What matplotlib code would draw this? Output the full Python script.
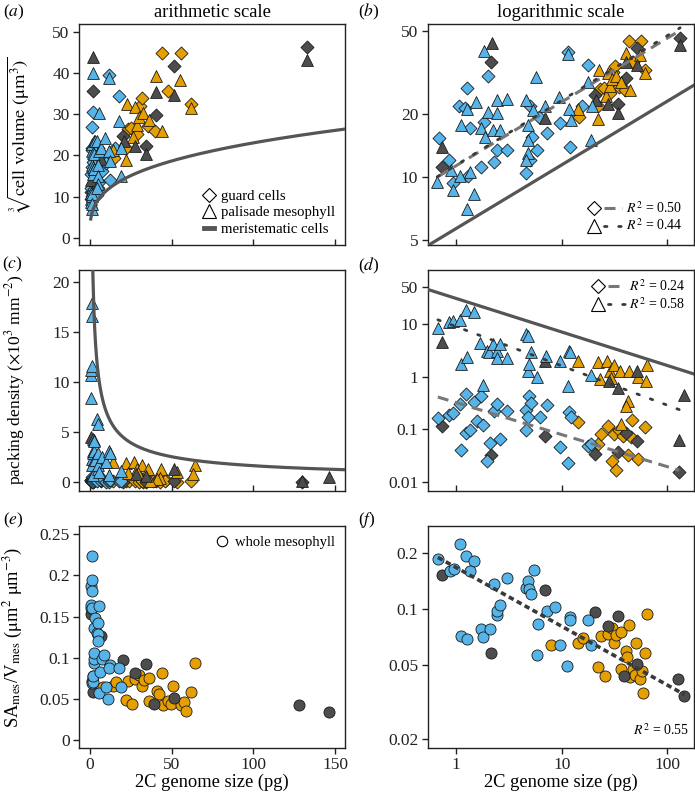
import numpy as np
import matplotlib
matplotlib.use("Agg")
import matplotlib.pyplot as plt
from matplotlib.lines import Line2D
from matplotlib.legend_handler import HandlerTuple
from matplotlib.ticker import FixedLocator, FixedFormatter, NullLocator

plt.rcParams['font.family'] = ['Liberation Serif', 'DejaVu Serif']
plt.rcParams['mathtext.fontset'] = 'stix'

# ---------------- data ----------------
# cube-root cell volume (um) vs 2C genome size (pg)
gc_vol_blue_x = [0.68, 0.86, 0.94, 1.07, 1.27, 1.22, 1.36, 1.29, 1.73, 1.84, 2.02, 2.26, 2.43, 3.02, 4.61, 5.2, 5.0, 5.8, 5.02, 6.1, 7.2, 9.7, 11.4, 12.0, 15.5, 17.7]
gc_vol_blue_y = [15.4, 12.1, 9.35, 21.9, 26.8, 21.4, 17.1, 10.1, 11.2, 18.4, 30.6, 11.8, 13.4, 13.4, 10.4, 15.6, 12.1, 13.5, 21.8, 19.5, 16.2, 18.2, 39.6, 14.0, 21.9, 34.4]
pm_vol_blue_x = [0.66, 0.90, 0.94, 1.08, 1.26, 1.36, 1.46, 1.26, 1.54, 1.12, 1.73, 1.88, 1.82, 2.02, 2.23, 2.43, 2.43, 2.63, 3.02, 4.58, 4.78, 4.78, 4.78, 4.6, 5.4, 5.7, 7.0, 9.5, 11.4, 11.8, 12.3, 17.7, 19.0, 19.2]
pm_vol_blue_y = [9.46, 10.8, 8.7, 10.1, 7.0, 10.6, 8.3, 21.1, 22.8, 17.7, 17.1, 15.6, 40.1, 20.5, 16.8, 20.3, 23.4, 16.8, 23.6, 23.4, 17.7, 15.0, 13.1, 12.1, 21.0, 30.3, 21.9, 24.3, 38.7, 21.2, 18.7, 28.4, 15.0, 21.9]
gc_vol_gray_x = [0.73, 2.15, 20.5, 34, 40.5, 51.5, 133]
gc_vol_gray_y = [11.2, 35.7, 24.8, 22.3, 29.8, 41.6, 46.4]
pm_vol_gray_x = [0.73, 2.18, 7.0, 21, 27.8, 34, 40.5, 51.5, 133]
pm_vol_gray_y = [14.0, 44.0, 19.1, 23.4, 22.3, 20.3, 35.5, 34.6, 43.1]
gc_vol_orange_x = [14.5, 22, 23, 25, 28.6, 30.6, 32, 35.3, 39.8, 44, 48, 56, 62]
gc_vol_orange_y = [19.5, 21.8, 26.3, 26.6, 25.3, 32.0, 34.0, 27.1, 26.0, 44.8, 35.7, 44.8, 32.5]
pm_vol_orange_x = [14.3, 22, 22.4, 26.5, 27.5, 28.6, 30.2, 32.7, 36.3, 40.4, 44.3, 55, 62]
pm_vol_orange_y = [21.3, 19.0, 32.5, 24.5, 31.7, 27.4, 29.4, 30.4, 28.6, 39.3, 26.0, 38.3, 31.4]

# packing density (x10^3 mm^-2)
gc_den_blue_x = [0.67, 0.86, 0.94, 1.08, 1.12, 1.24, 1.24, 1.36, 1.49, 1.57, 1.73, 1.79, 2.1, 1.95, 2.3, 2.46, 2.6, 3.02, 4.6, 4.85, 5.1, 4.8, 4.6, 6.2, 7.2, 9.7, 11.4, 11.8, 12.3, 17.7, 19]
gc_den_blue_y = [0.164, 0.19, 0.2, 0.30, 0.041, 0.47, 0.084, 0.097, 0.335, 0.146, 0.42, 0.123, 0.054, 0.025, 0.22, 0.30, 0.066, 0.22, 0.233, 0.42, 0.31, 0.17, 0.097, 0.17, 0.29, 0.047, 0.0226, 0.21, 0.17, 0.049, 0.053]
pm_den_blue_x = [0.67, 0.86, 0.94, 1.08, 1.24, 1.49, 1.12, 1.26, 1.69, 1.79, 1.95, 2.06, 2.23, 2.45, 2.43, 2.63, 3.02, 4.6, 4.8, 5.1, 4.8, 4.95, 5.8, 7.1, 9.7, 11.4, 11.8, 12.0, 19.0]
pm_den_blue_y = [8.4, 10.7, 11.2, 11.6, 17.9, 16.6, 1.74, 2.33, 4.3, 0.69, 3.1, 2.9, 4.2, 3.1, 2.2, 4.05, 2.2, 6.3, 5.75, 2.9, 1.3, 1.7, 1.0, 2.5, 1.95, 0.67, 3.1, 2.9, 1.09]
gc_den_gray_x = [0.73, 2.15, 7.0, 20.5, 34, 40.5, 51.5, 130]
gc_den_gray_y = [0.117, 0.033, 0.074, 0.034, 0.0366, 0.084, 0.059, 0.0153]
pm_den_gray_x = [0.73, 7.0, 28.3, 34, 51.5, 130, 146]
pm_den_gray_y = [4.5, 1.95, 0.84, 0.61, 1.3, 0.063, 0.455]
gc_den_orange_x = [14.4, 22.3, 23.6, 27.8, 29.9, 32.7, 31.6, 35, 38.6, 42.6, 46.8, 45.7, 53.5, 62]
gc_den_orange_y = [0.136, 0.053, 0.082, 0.117, 0.0248, 0.0169, 0.08, 0.095, 0.073, 0.032, 0.15, 0.07, 0.027, 0.112]
pm_den_orange_x = [14.4, 21.9, 26.8, 28.9, 31.6, 23.2, 29.5, 35.8, 43.6, 53.5, 64, 63, 43, 41, 36.5]
pm_den_orange_y = [1.95, 1.87, 1.95, 1.3, 1.66, 0.9, 0.94, 1.26, 1.26, 0.97, 1.69, 0.84, 0.35, 0.28, 0.126]

# whole mesophyll SA/V (um^2 um^-3)
wm_blue_x = [0.67, 1.08, 0.88, 0.96, 1.24, 1.48, 1.36, 1.11, 1.27, 1.73, 1.79, 2.08, 2.29, 2.43, 2.46, 2.63, 3.02, 4.61, 4.81, 4.95, 5.14, 5.52, 6.03, 5.82, 7.23, 8.67, 9.68, 11.3, 12.0, 11.9, 17.7, 19.0]
wm_blue_y = [0.187, 0.224, 0.161, 0.164, 0.194, 0.181, 0.161, 0.072, 0.069, 0.078, 0.071, 0.078, 0.136, 0.093, 0.098, 0.106, 0.148, 0.130, 0.142, 0.129, 0.120, 0.163, 0.083, 0.057, 0.098, 0.103, 0.064, 0.0496, 0.091, 0.087, 0.088, 0.064]
wm_gray_x = [0.73, 2.15, 6.88, 20.5, 27.8, 34.1, 39.4, 51.5, 128, 146]
wm_gray_y = [0.153, 0.058, 0.127, 0.097, 0.081, 0.092, 0.044, 0.051, 0.042, 0.034]
wm_orange_x = [7.9, 14.4, 16.1, 22.2, 23.5, 25.8, 27.8, 29.9, 31.7, 32.9, 36.4, 36.4, 40.9, 42, 44, 44.6, 48, 49.7, 50.8, 55.5, 57.5, 58.9, 62, 64]
wm_orange_y = [0.064, 0.066, 0.070, 0.0488, 0.072, 0.0438, 0.074, 0.079, 0.066, 0.073, 0.075, 0.0475, 0.060, 0.0556, 0.082, 0.043, 0.048, 0.0443, 0.066, 0.042, 0.0463, 0.0353, 0.058, 0.094]

# meristematic cell model: y = coef * x ** exp
meri_vol_coef, meri_vol_exp = 5.66, 0.305
meri_den_coef, meri_den_exp = 30.2, -0.635

r2_gc_vol, r2_pm_vol = "0.50", "0.44"
r2_gc_den, r2_pm_den = "0.24", "0.58"
r2_wm = "0.55"

# ---------------- style ----------------
BLUE = '#56B4E9'
ORANGE = '#E69F00'
GRAY = '#4D4D4D'
EDGE = '#1a1a1a'
LINEC = '#555555'
FS_TICK = 12.5
FS_LAB = 13.3

W, H = 695, 795
fig = plt.figure(figsize=(W / 100, H / 100), dpi=100)


def ax_at(l, t, r, b):
    return fig.add_axes([l / W, 1 - b / H, (r - l) / W, (b - t) / H])


ax_a = ax_at(79.3, 24, 345, 245.3)
ax_b = ax_at(428, 24, 694, 245.3)
ax_c = ax_at(79.3, 269.5, 345, 490.5)
ax_d = ax_at(428, 269.5, 694, 490.5)
ax_e = ax_at(79.3, 526, 345, 748.3)
ax_f = ax_at(428, 526, 694, 748.3)

S_D, S_T, S_O = 44, 72, 64


def scatter_groups(ax, groups, marker, s):
    for xs, ys, col in groups:
        ax.scatter(xs, ys, s=s, marker=marker, facecolor=col, edgecolor=EDGE,
                   linewidth=0.6, zorder=3)


vol_gc = [(gc_vol_orange_x, gc_vol_orange_y, ORANGE), (gc_vol_gray_x, gc_vol_gray_y, GRAY),
          (gc_vol_blue_x, gc_vol_blue_y, BLUE)]
vol_pm = [(pm_vol_orange_x, pm_vol_orange_y, ORANGE), (pm_vol_gray_x, pm_vol_gray_y, GRAY),
          (pm_vol_blue_x, pm_vol_blue_y, BLUE)]
den_gc = [(gc_den_orange_x, gc_den_orange_y, ORANGE), (gc_den_gray_x, gc_den_gray_y, GRAY),
          (gc_den_blue_x, gc_den_blue_y, BLUE)]
den_pm = [(pm_den_orange_x, pm_den_orange_y, ORANGE), (pm_den_gray_x, pm_den_gray_y, GRAY),
          (pm_den_blue_x, pm_den_blue_y, BLUE)]
wm = [(wm_orange_x, wm_orange_y, ORANGE), (wm_gray_x, wm_gray_y, GRAY), (wm_blue_x, wm_blue_y, BLUE)]


def cat(groups):
    xs = np.concatenate([np.asarray(g[0], float) for g in groups])
    ys = np.concatenate([np.asarray(g[1], float) for g in groups])
    return xs, ys


def sma_fit(groups):
    """standardised major axis regression in log-log space"""
    xs, ys = cat(groups)
    lx, ly = np.log10(xs), np.log10(ys)
    r = np.corrcoef(lx, ly)[0, 1]
    k = np.sign(r) * ly.std() / lx.std()
    c = ly.mean() - k * lx.mean()
    xx = np.logspace(lx.min(), lx.max(), 50)
    return xx, 10 ** (c + k * np.log10(xx))


xm_lin = np.linspace(0.5, 160, 600)
xm_log = np.logspace(np.log10(0.5), np.log10(200), 100)

DASH_GC = dict(color='#777777', lw=2.2, dashes=(3.6, 2.2), solid_capstyle='butt', dash_capstyle='butt')
DOT_PM = dict(color='#3a3a3a', lw=2.0, dashes=(0.9, 4.2), dash_capstyle='round')

# (a)
ax = ax_a
scatter_groups(ax, vol_gc, 'D', S_D)
scatter_groups(ax, vol_pm, '^', S_T)
ax.plot(xm_lin, meri_vol_coef * xm_lin ** meri_vol_exp, color=LINEC, lw=2.3, zorder=4)
ax.set_xlim(-6.5, 156)
ax.set_ylim(-1.8, 51.9)
ax.set_yticks([0, 10, 20, 30, 40, 50])
ax.set_xticks([0, 50, 100, 150])
ax.set_xticklabels([])
h_gc = Line2D([], [], marker='D', ls='none', mfc='white', mec='k', mew=0.8, ms=7)
h_pm = Line2D([], [], marker='^', ls='none', mfc='white', mec='k', mew=0.8, ms=9.5)
h_me = Line2D([], [], color=LINEC, lw=3.5)
ax.legend([h_gc, h_pm, h_me], ['guard cells', 'palisade mesophyll', 'meristematic cells'],
          loc='lower right', frameon=False, fontsize=10.6, handlelength=0.7, handletextpad=0.5,
          labelspacing=0.2, borderaxespad=0.25)
ax.set_ylabel(r'$\sqrt[3]{\mathrm{cell\ volume\ (\mu m^3)}}$', fontsize=FS_LAB)
ax.set_title('arithmetic scale', fontsize=FS_LAB, pad=5)

# (b)
ax = ax_b
scatter_groups(ax, vol_gc, 'D', S_D)
scatter_groups(ax, vol_pm, '^', S_T)
ax.set_xscale('log'); ax.set_yscale('log')
ax.plot(xm_log, meri_vol_coef * xm_log ** meri_vol_exp, color=LINEC, lw=2.3, zorder=4)
fx, fy = sma_fit(vol_gc)
ax.plot(fx, fy, zorder=5, **DASH_GC)
fx, fy = sma_fit(vol_pm)
ax.plot(fx, fy, zorder=5, **DOT_PM)
ax.set_xlim(0.54, 180)
ax.set_ylim(4.7, 54.2)
ax.yaxis.set_major_locator(FixedLocator([5, 10, 20, 50]))
ax.yaxis.set_major_formatter(FixedFormatter(['5', '10', '20', '50']))
ax.xaxis.set_major_locator(FixedLocator([1, 10, 100]))
ax.set_xticklabels([])
ax.set_title('logarithmic scale', fontsize=FS_LAB, pad=5)

# (c)
ax = ax_c
scatter_groups(ax, den_gc, 'D', S_D)
scatter_groups(ax, den_pm, '^', S_T)
ax.plot(xm_lin, meri_den_coef * xm_lin ** meri_den_exp, color=LINEC, lw=2.3, zorder=4)
ax.set_xlim(-6.5, 156)
ax.set_ylim(-0.85, 21.2)
ax.set_yticks([0, 5, 10, 15, 20])
ax.set_xticks([0, 50, 100, 150])
ax.set_xticklabels([])
ax.set_ylabel(r'packing density ($\times$10$^3$ mm$^{-2}$)', fontsize=12.6)

# (d)
ax = ax_d
scatter_groups(ax, den_gc, 'D', S_D)
scatter_groups(ax, den_pm, '^', S_T)
ax.set_xscale('log'); ax.set_yscale('log')
ax.plot(xm_log, meri_den_coef * xm_log ** meri_den_exp, color=LINEC, lw=2.3, zorder=4)
fx, fy = sma_fit(den_gc)
ax.plot(fx, fy, zorder=5, **DASH_GC)
fx, fy = sma_fit(den_pm)
ax.plot(fx, fy, zorder=5, **DOT_PM)
ax.set_xlim(0.54, 180)
ax.set_ylim(0.0069, 107)
ax.yaxis.set_major_locator(FixedLocator([0.01, 0.1, 1, 10, 50]))
ax.yaxis.set_major_formatter(FixedFormatter(['0.01', '0.1', '1', '10', '50']))
ax.xaxis.set_major_locator(FixedLocator([1, 10, 100]))
ax.set_xticklabels([])

# (e)
ax = ax_e
scatter_groups(ax, wm, 'o', S_O)
ax.set_xlim(-6.5, 156)
ax.set_ylim(-0.01, 0.26)
ax.set_yticks([0, 0.05, 0.1, 0.15, 0.2, 0.25])
ax.set_yticklabels(['0', '0.05', '0.1', '0.15', '0.2', '0.25'])
ax.set_xticks([0, 50, 100, 150])
h_wm = Line2D([], [], marker='o', ls='none', mfc='white', mec='k', mew=0.8, ms=7.5)
ax.legend([h_wm], ['whole mesophyll'], loc='upper right', frameon=False, fontsize=10.5,
          handlelength=0.7, handletextpad=0.5, borderaxespad=0.3)
ax.set_ylabel(r'SA$_{\mathrm{mes}}$/V$_{\mathrm{mes}}$ ($\mathrm{\mu}$m$^2$ $\mathrm{\mu}$m$^{-3}$)', fontsize=FS_LAB)
ax.set_xlabel('2C genome size (pg)', fontsize=FS_LAB, labelpad=0)

# (f)
ax = ax_f
scatter_groups(ax, wm, 'o', S_O)
ax.set_xscale('log'); ax.set_yscale('log')
fx, fy = sma_fit(wm)
ax.plot(fx, fy, color='#3a3a3a', lw=2.6, dashes=(1.5, 1.0), zorder=5)
ax.set_xlim(0.54, 180)
ax.set_ylim(0.0179, 0.28)
ax.yaxis.set_major_locator(FixedLocator([0.02, 0.05, 0.1, 0.2]))
ax.yaxis.set_major_formatter(FixedFormatter(['0.02', '0.05', '0.1', '0.2']))
ax.xaxis.set_major_locator(FixedLocator([1, 10, 100]))
ax.xaxis.set_major_formatter(FixedFormatter(['1', '10', '100']))
ax.text(0.98, 0.08, r'$R^2$ = ' + r2_wm, transform=ax.transAxes, ha='right', va='center', fontsize=10)
ax.set_xlabel('2C genome size (pg)', fontsize=FS_LAB, labelpad=0)


# legends for regression panels
def reg_legend(ax, loc, r_gc, r_pm, pad):
    mk_d = Line2D([], [], marker='D', ls='none', mfc='white', mec='k', mew=0.8, ms=7)
    mk_t = Line2D([], [], marker='^', ls='none', mfc='white', mec='k', mew=0.8, ms=9.5)
    ln_d = Line2D([], [], **DASH_GC)
    ln_t = Line2D([], [], **DOT_PM)
    ax.legend([(mk_d, ln_d), (mk_t, ln_t)], [r'$R^2$ = ' + r_gc, r'$R^2$ = ' + r_pm],
              handler_map={tuple: HandlerTuple(ndivide=None, pad=0.1)}, loc=loc, frameon=False,
              fontsize=10, handlelength=2.6, handletextpad=0.3, labelspacing=0.15, borderaxespad=pad)


reg_legend(ax_b, 'lower right', r2_gc_vol, r2_pm_vol, 0.45)
reg_legend(ax_d, 'upper right', r2_gc_den, r2_pm_den, 0.2)

for ax in [ax_a, ax_b, ax_c, ax_d, ax_e, ax_f]:
    for sp in ax.spines.values():
        sp.set_linewidth(1.0)
        sp.set_color('#222222')
    ax.tick_params(axis='both', labelsize=FS_TICK, colors='#222222', width=1.0, length=4.5)
    ax.tick_params(axis='y', direction='out', pad=2.5)
    ax.yaxis.set_minor_locator(NullLocator())
    ax.xaxis.set_minor_locator(NullLocator())
for ax in [ax_a, ax_b, ax_c, ax_d]:
    ax.tick_params(axis='x', direction='in')
for ax in [ax_e, ax_f]:
    ax.tick_params(axis='x', direction='out', pad=2)

ax_a.yaxis.set_label_coords(-0.175, 0.5)
ax_c.yaxis.set_label_coords(-0.197, 0.5)
ax_e.yaxis.set_label_coords(-0.204, 0.5)

labels = [('a', 3, 12), ('b', 358, 12), ('c', 2, 264), ('d', 358, 266), ('e', 3, 520), ('f', 358, 520)]
for lt, px, py in labels:
    fig.text(px / W, 1 - py / H, '(' + r'$\mathit{' + lt + '}$' + ')', fontsize=12.5, ha='left', va='center')

fig.savefig('out.png', dpi=100)
